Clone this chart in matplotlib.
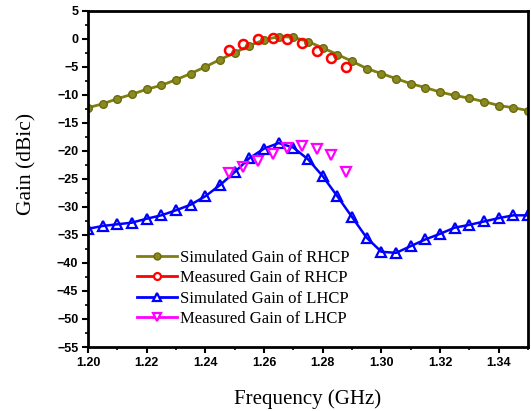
import numpy as np
import matplotlib
matplotlib.use('Agg')
import matplotlib.pyplot as plt
from matplotlib.ticker import MultipleLocator, FormatStrFormatter
from matplotlib.lines import Line2D

# Simulated curves: 1.200 .. 1.350 GHz, step 0.005
sim_freq = [1.200, 1.205, 1.210, 1.215, 1.220, 1.225, 1.230, 1.235, 1.240, 1.245,
            1.250, 1.255, 1.260, 1.265, 1.270, 1.275, 1.280, 1.285, 1.290, 1.295,
            1.300, 1.305, 1.310, 1.315, 1.320, 1.325, 1.330, 1.335, 1.340, 1.345, 1.350]
sim_rhcp = [-12.3, -11.6, -10.7, -9.9, -9.0, -8.3, -7.3, -6.2, -5.0, -3.7,
            -2.5, -1.2, -0.2, 0.4, 0.3, -0.5, -1.6, -2.8, -4.0, -5.3,
            -6.2, -7.1, -8.0, -8.7, -9.5, -10.1, -10.6, -11.2, -11.9, -12.3, -12.8]
sim_lhcp = [-33.9, -33.4, -33.1, -32.8, -32.1, -31.5, -30.6, -29.6, -28.1, -26.1,
            -23.8, -21.3, -19.6, -18.6, -19.4, -21.5, -24.5, -28.1, -31.8, -35.5,
            -38.0, -38.2, -37.0, -35.8, -34.8, -33.7, -33.2, -32.6, -32.0, -31.5, -31.5]

# Measured points
meas_freq = [1.248, 1.253, 1.258, 1.263, 1.268, 1.273, 1.278, 1.283, 1.288]
meas_rhcp = [-1.95, -0.9, 0.0, 0.2, 0.05, -0.8, -2.1, -3.5, -5.0]
meas_lhcp = [-24.0, -22.8, -21.8, -20.5, -19.4, -19.2, -19.6, -20.8, -23.7]

labels = ['Simulated Gain of RHCP', 'Measured Gain of RHCP',
          'Simulated Gain of LHCP', 'Measured Gain of LHCP']

fig = plt.figure(figsize=(5.31, 4.11), dpi=100)
ax = fig.add_axes([0.1657, 0.1557, 0.8287, 0.818])

olive = '#7f7f10'
ax.plot(sim_freq, sim_rhcp, '-o', color=olive, lw=2, ms=5.5,
        mfc='#8a8a20', mec='#6a6a10')
ax.plot(meas_freq, meas_rhcp, 'o', color='red', ms=6.5, mfc='none', mew=1.8)
ax.plot(sim_freq, sim_lhcp, '-^', color='#0000ff', lw=1.8, ms=7, mfc='none', mew=1.6)
ax.plot(meas_freq, meas_lhcp, 'v', color='#ff00ff', ms=7, mfc='none', mew=1.6)

# legend handles show a line through each marker
handles = [
    Line2D([], [], color=olive, lw=2, marker='o', ms=5, mfc='#8a8a20', mec='#6a6a10'),
    Line2D([], [], color='red', lw=2, marker='o', ms=5, mfc='white', mew=1.6),
    Line2D([], [], color='#0000ff', lw=2, marker='^', ms=6, mfc='white', mew=1.6),
    Line2D([], [], color='#ff00ff', lw=2, marker='v', ms=6, mfc='white', mew=1.6),
]

ax.set_xlim(1.20, 1.35)
ax.set_ylim(-55, 5)
ax.xaxis.set_major_locator(MultipleLocator(0.02))
ax.xaxis.set_minor_locator(MultipleLocator(0.01))
ax.yaxis.set_major_locator(MultipleLocator(5))
ax.yaxis.set_minor_locator(MultipleLocator(2.5))
ax.xaxis.set_major_formatter(FormatStrFormatter('%.2f'))
ax.tick_params(which='major', direction='out', length=4, width=1.5, pad=3)
ax.tick_params(which='minor', direction='out', length=2.5, width=1.2)
for lab in ax.get_xticklabels() + ax.get_yticklabels():
    lab.set_fontfamily('Liberation Sans')
    lab.set_fontweight('bold')
    lab.set_fontsize(9)
for sp in ax.spines.values():
    sp.set_linewidth(2)

ax.set_xlabel('Frequency (GHz)', family='Liberation Serif', fontsize=15)
ax.set_ylabel('Gain (dBic)', family='Liberation Serif', fontsize=15.5)
ax.xaxis.set_label_coords(0.5, -0.125)
ax.yaxis.set_label_coords(-0.118, 0.545)

ax.legend(handles, labels, loc='upper left', bbox_to_anchor=(0.111, 0.29),
          frameon=False, prop={'family': 'Liberation Serif', 'size': 12},
          handlelength=2.4, handletextpad=0.2, labelspacing=0.27,
          borderaxespad=0, borderpad=0)

fig.savefig('out.png', dpi=100)
